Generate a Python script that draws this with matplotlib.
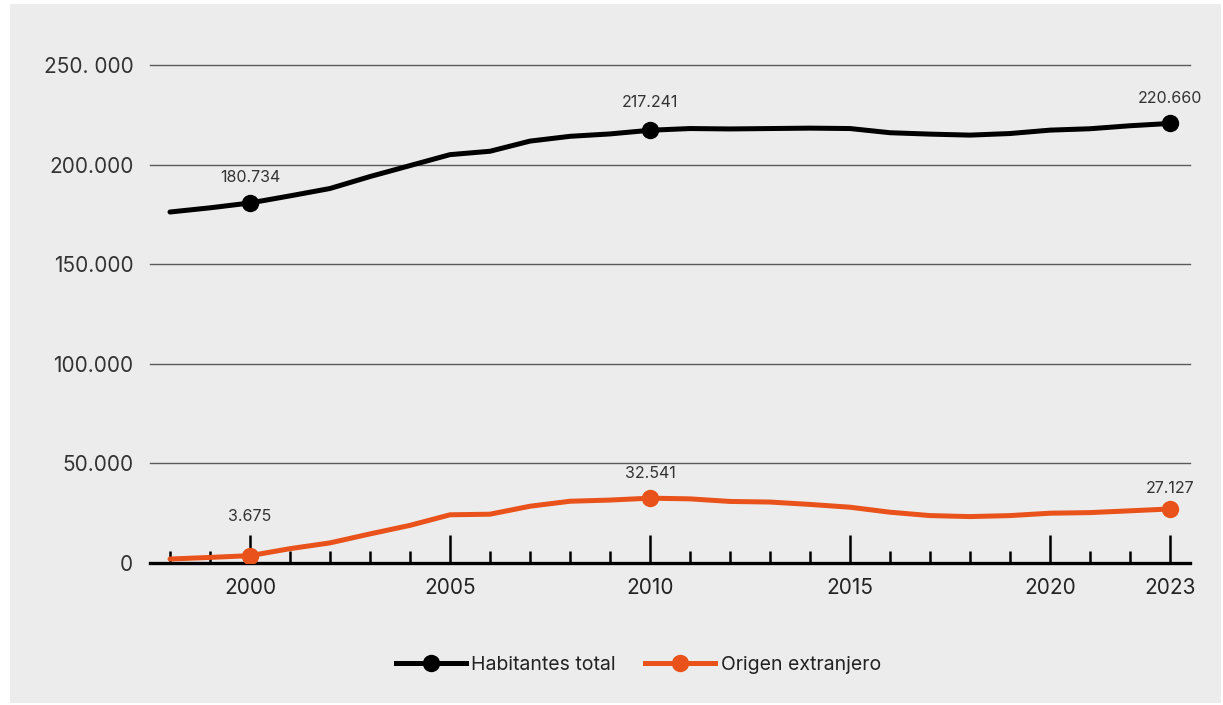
import matplotlib
matplotlib.use("Agg")
import matplotlib.pyplot as plt
from matplotlib.patches import Rectangle
from matplotlib.ticker import FixedLocator, NullFormatter
from matplotlib.lines import Line2D

plt.rcParams['font.family'] = ['Inter', 'DejaVu Sans']

years = list(range(1998, 2024))
total = [176200, 178300, 180734, 184300, 188000, 194000, 199500, 205000, 206700,
         211800, 214200, 215400, 217241, 218100, 217900, 218100, 218300, 218100,
         216000, 215300, 214800, 215600, 217300, 218000, 219500, 220660]
foreign = [2000, 2800, 3675, 7200, 10100, 14600, 18900, 24200, 24500,
           28500, 31000, 31600, 32541, 32200, 30900, 30600, 29400, 28000,
           25500, 23800, 23300, 23800, 25000, 25300, 26200, 27127]

ytick_vals = [0, 50000, 100000, 150000, 200000, 250000]
ytick_labels = ["0", "50.000", "100.000", "150.000", "200.000", "250. 000"]
xtick_major = [2000, 2005, 2010, 2015, 2020, 2023]
xtick_labels = ["2000", "2005", "2010", "2015", "2020", "2023"]

label_years = [2000, 2010, 2023]
total_labels = ["180.734", "217.241", "220.660"]
foreign_labels = ["3.675", "32.541", "27.127"]

BLACK = "#000000"
ORANGE = "#E9521A"
BG = "#ECECEC"

W, H = 1223, 705
fig = plt.figure(figsize=(W / 100, H / 100), dpi=100, facecolor="white")
bg = Rectangle((10 / W, 2 / H), (1221 - 10) / W, (701 - 2) / H,
               transform=fig.transFigure, facecolor=BG, edgecolor="none",
               zorder=-10)
fig.patches.append(bg)

ax = fig.add_axes([150 / W, (H - 563) / H, (1190 - 150) / W, (563 - 65) / H])
ax.set_zorder(1)
ax.set_facecolor("none")
ax.set_xlim(1997.5, 2023.5)
ax.set_ylim(0, 250000)

for v in ytick_vals[1:]:
    ax.axhline(v, color="#5a5a5a", lw=1.0, zorder=1, clip_on=False)

for s in ["top", "right", "left"]:
    ax.spines[s].set_visible(False)
ax.spines["bottom"].set_linewidth(2.4)
ax.spines["bottom"].set_color(BLACK)
ax.spines["bottom"].set_zorder(2)

ax.set_yticks(ytick_vals)
ax.set_yticklabels(ytick_labels)
ax.tick_params(axis="y", length=0, pad=12, labelsize=15, labelcolor="#333333")

ax.set_xticks(xtick_major)
ax.set_xticklabels(xtick_labels)
ax.xaxis.set_minor_locator(FixedLocator(years))
ax.xaxis.set_minor_formatter(NullFormatter())
ax.tick_params(axis="x", which="major", direction="in", length=20, width=1.8,
               color=BLACK, labelsize=15, labelcolor="#222222", pad=11)
ax.tick_params(axis="x", which="minor", direction="in", length=9, width=1.8,
               color=BLACK)

ax.plot(years, total, color=BLACK, lw=3.6, solid_capstyle="round", zorder=4)
ax.plot(years, foreign, color=ORANGE, lw=3.6, solid_capstyle="round", zorder=4)

for yr in label_years:
    ax.plot([yr], [total[years.index(yr)]], "o", color=BLACK, ms=11.5, zorder=5)
    ax.plot([yr], [foreign[years.index(yr)]], "o", color=ORANGE, ms=11.5, zorder=5)

offs_t = [18, 20, 18]
for yr, lab, o in zip(label_years, total_labels, offs_t):
    v = total[years.index(yr)]
    ax.annotate(lab, (yr, v), xytext=(0, o), textcoords="offset points",
                ha="center", va="center", fontsize=11.5, color="#333333")

offs_f = [28, 18, 15]
for yr, lab, o in zip(label_years, foreign_labels, offs_f):
    v = foreign[years.index(yr)]
    ax.annotate(lab, (yr, v), xytext=(0, o), textcoords="offset points",
                ha="center", va="center", fontsize=11.5, color="#333333")

handles = [Line2D([], [], color=BLACK, lw=3.6, marker="o", ms=11.5),
           Line2D([], [], color=ORANGE, lw=3.6, marker="o", ms=11.5)]
fig.legend(handles, ["Habitantes total", "Origen extranjero"], loc="center",
           bbox_to_anchor=(0.522, (H - 665) / H), ncol=2, frameon=False,
           fontsize=14, handlelength=3.6, handletextpad=0.3, columnspacing=1.5,
           labelcolor="#222222")

fig.savefig("out.png", dpi=100, facecolor="white")
